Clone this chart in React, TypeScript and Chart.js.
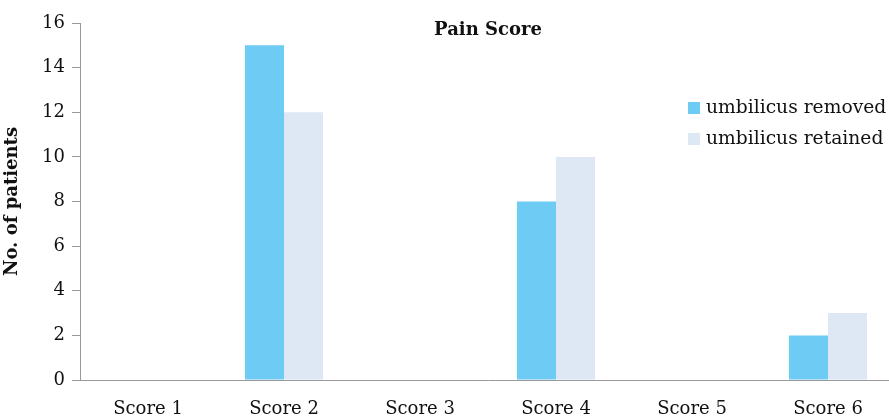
import React, { useEffect, useRef } from "react";
import { Chart, registerables } from "chart.js";

Chart.register(...registerables);

const categories = ["Score 1", "Score 2", "Score 3", "Score 4", "Score 5", "Score 6"];
const removedValues = [0, 15, 0, 8, 0, 2];
const retainedValues = [0, 12, 0, 10, 0, 3];
const seriesNames = ["umbilicus removed", "umbilicus retained"];
const chartTitle = "Pain Score";
const yTitle = "No. of patients";

const FONT = "'DejaVu Serif', serif";

const overlayPlugin = {
  id: "overlay",
  afterDraw(chart: any) {
    const ctx = chart.ctx;
    const area = chart.chartArea;
    ctx.save();
    ctx.font = `bold 18px ${FONT}`;
    ctx.fillStyle = "#111";
    ctx.textAlign = "center";
    ctx.textBaseline = "middle";
    ctx.fillText(chartTitle, (area.left + area.right) / 2, area.top + 7);
    const lx = 688;
    const ly = 108;
    chart.data.datasets.forEach((ds: any, i: number) => {
      const y = ly + i * 31;
      ctx.fillStyle = ds.backgroundColor;
      ctx.fillRect(lx, y - 6, 12, 12);
      ctx.fillStyle = "#111";
      ctx.font = `18.7px ${FONT}`;
      ctx.textAlign = "left";
      ctx.textBaseline = "middle";
      ctx.fillText(ds.label, lx + 18, y);
    });
    ctx.restore();
  },
};

export default function App() {
  const ref = useRef<HTMLCanvasElement>(null);
  useEffect(() => {
    if (!ref.current) return;
    const chart = new Chart(ref.current, {
      type: "bar",
      data: {
        labels: categories,
        datasets: [
          { label: seriesNames[0], data: removedValues, backgroundColor: "#6ECBF3", barPercentage: 1, categoryPercentage: 0.574 },
          { label: seriesNames[1], data: retainedValues, backgroundColor: "#DDE8F4", barPercentage: 1, categoryPercentage: 0.574 },
        ],
      },
      options: {
        animation: false,
        responsive: false,
        maintainAspectRatio: false,
        layout: { padding: { top: 23, right: 0, left: 0, bottom: 0 } },
        plugins: { legend: { display: false }, title: { display: false }, tooltip: { enabled: false } },
        scales: {
          x: {
            grid: { display: false, drawTicks: false },
            border: { display: true, color: "#999", width: 1 },
            ticks: { color: "#111", font: { family: FONT, size: 18 }, padding: 19, maxRotation: 0 },
            afterFit: (s: any) => { s.height = 37; },
          },
          y: {
            min: 0,
            max: 16,
            ticks: { stepSize: 2, color: "#111", font: { family: FONT, size: 18 }, padding: 7 },
            grid: { drawOnChartArea: false, drawTicks: true, tickLength: 8, color: "#999" },
            border: { display: true, color: "#999", width: 1 },
            title: { display: true, text: yTitle, color: "#111", font: { family: FONT, size: 18, weight: "bold" }, padding: { top: 2, bottom: 0 } },
            afterFit: (s: any) => { s.width = 80; },
          },
        },
      },
      plugins: [overlayPlugin],
    });
    return () => chart.destroy();
  }, []);
  return (
    <div style={{ position: "fixed", left: 0, top: 0, width: 889, height: 417, overflow: "hidden", background: "#fff" }}>
      <canvas ref={ref} width={896} height={417} style={{ display: "block", width: 896, height: 417 }} />
    </div>
  );
}
